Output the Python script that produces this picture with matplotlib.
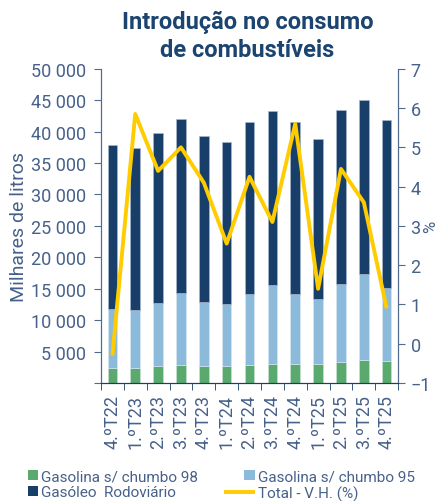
import numpy as np
import matplotlib.pyplot as plt
from matplotlib.ticker import FuncFormatter
from matplotlib.patches import Rectangle
from matplotlib.legend_handler import HandlerPatch

plt.rcParams['font.family'] = ['Roboto', 'DejaVu Sans']

# dados (milhares de litros e variação homóloga %)
trimestres = ["4.ºT22", "1.ºT23", "2.ºT23", "3.ºT23", "4.ºT23", "1.ºT24", "2.ºT24",
              "3.ºT24", "4.ºT24", "1.ºT25", "2.ºT25", "3.ºT25", "4.ºT25"]
gasolina_98 = [2400, 2350, 2650, 2800, 2700, 2700, 2900, 3100, 3100, 3000, 3300, 3600, 3500]
topo_95 = [11700, 11600, 12700, 14300, 12900, 12600, 14200, 15600, 14200, 13400, 15800, 17300, 15100]
total = [37800, 37400, 39800, 42000, 39300, 38300, 41500, 43300, 41600, 38800, 43400, 45000, 41900]
total_vh = [-0.3, 5.85, 4.4, 5.0, 4.1, 2.55, 4.25, 3.1, 5.6, 1.4, 4.45, 3.6, 0.9]

gasolina_95 = np.array(topo_95) - np.array(gasolina_98)
gasoleo = np.array(total) - np.array(topo_95)

c_verde = "#5aa96f"
c_azul_claro = "#8cbadb"
c_azul_escuro = "#173f69"
c_amarelo = "#ffcc00"
c_texto = "#46618a"
c_eixo = "#506a8c"

fig = plt.figure(figsize=(4.37, 5.02), dpi=100)
ax = fig.add_axes([0.231, 0.235, 0.68, 0.626])
x = np.arange(len(trimestres))
w = 0.42

b1 = ax.bar(x, gasolina_98, w, color=c_verde, edgecolor="#cfe3d5", linewidth=0.4)
b2 = ax.bar(x, gasolina_95, w, bottom=gasolina_98, color=c_azul_claro, edgecolor="#dbe9f4",
            linewidth=0.4)
b3 = ax.bar(x, gasoleo, w, bottom=topo_95, color=c_azul_escuro, edgecolor="#a9bbd0",
            linewidth=0.4)

ax.set_xlim(-0.5, len(trimestres) - 0.5)
ax.set_ylim(0, 50000)
ax.set_yticks(np.arange(0, 50001, 5000))
ax.yaxis.set_major_formatter(FuncFormatter(
    lambda v, p: "" if v == 0 else f"{int(v):,}".replace(",", " ")))
ax.set_ylabel("Milhares de litros", color=c_texto, fontsize=14)
ax.yaxis.set_label_coords(-0.245, 0.5)

ax.set_xticks(x)
ax.set_xticklabels(trimestres, rotation=90)
ax.set_xticks(np.arange(-0.5, len(trimestres)), minor=True)
ax.tick_params(axis="x", which="major", length=0, pad=8, labelsize=13, labelcolor=c_texto)
ax.tick_params(axis="x", which="minor", length=5, color=c_azul_escuro, direction="out")
ax.tick_params(axis="y", length=5, color=c_eixo, labelsize=13, labelcolor=c_texto, pad=5.5)

ax2 = ax.twinx()
l1, = ax2.plot(x, total_vh, color=c_amarelo, linewidth=2.8, solid_capstyle="butt", zorder=5)
ax2.set_ylim(-1, 7)
ax2.set_yticks(np.arange(-1, 8, 1))
ax2.set_ylabel("%", color=c_texto, fontsize=12)
ax2.yaxis.set_label_coords(1.083, 0.5)
ax2.tick_params(axis="y", length=5, color=c_eixo, labelsize=13, labelcolor=c_texto, pad=4)

for a in (ax, ax2):
    a.spines["top"].set_visible(False)
    a.spines["left"].set_color(c_eixo)
    a.spines["right"].set_color(c_eixo)
    a.spines["bottom"].set_color(c_azul_escuro)

fig.text(0.566, 0.978, "Introdução no consumo\nde combustíveis", ha="center", va="top",
         fontsize=17, fontweight="bold", color="#1c4470", linespacing=1.25)


# quadrado da legenda encostado ao texto
def quadrado(legend, orig_handle, xdescent, ydescent, width, height, fontsize):
    return Rectangle((-xdescent + width - height, -ydescent), height, height)


h98, h95, hgo = b1.patches[0], b2.patches[0], b3.patches[0]
leg = fig.legend([h98, hgo, h95, l1],
                 ["Gasolina s/ chumbo 98", "Gasóleo  Rodoviário", "Gasolina s/ chumbo 95",
                  "Total - V.H. (%)"],
                 loc="upper left", bbox_to_anchor=(0.0, 1 - 463 / 502), ncol=2,
                 frameon=False, fontsize=11, handlelength=2.0, handleheight=0.66,
                 handletextpad=0.2, columnspacing=1.7, labelspacing=0.12, borderpad=0,
                 handler_map={h98: HandlerPatch(patch_func=quadrado),
                              h95: HandlerPatch(patch_func=quadrado),
                              hgo: HandlerPatch(patch_func=quadrado)})
for t in leg.get_texts():
    t.set_color(c_texto)
for h in leg.legend_handles[:3]:
    h.set_linewidth(0)
leg.legend_handles[3].set_linewidth(2.8)

fig.savefig("out.png", dpi=100)
